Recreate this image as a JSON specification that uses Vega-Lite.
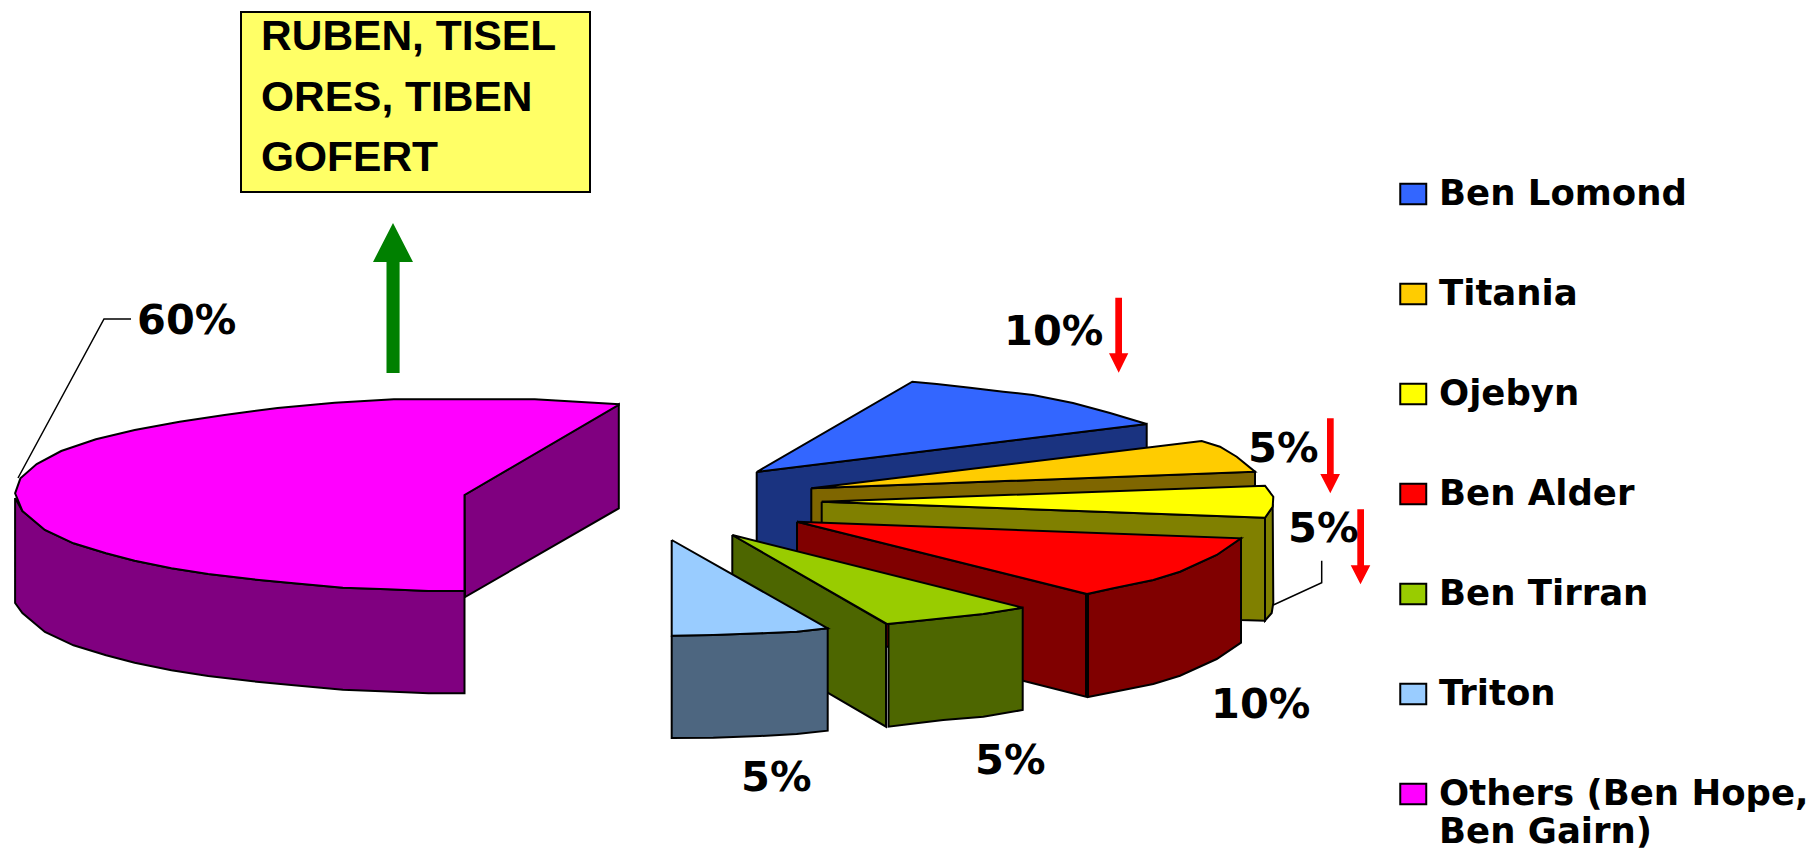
{
"$schema":"https://vega.github.io/schema/vega-lite/v6.json",
"width":1813,"height":849,"padding":0,"autosize":{"type":"none"},
"background":"white",
"config":{"view":{"stroke":null}},
"datasets":{
"poly":[
{"shape":"a","face":"Others side","i":1,"x":464.5,"y":495},{"shape":"a","face":"Others side","i":2,"x":618.8,"y":404.3},{"shape":"a","face":"Others side","i":3,"x":618.8,"y":508.3},{"shape":"a","face":"Others side","i":4,"x":465,"y":597},{"shape":"a","face":"Others side","i":5,"x":464.5,"y":495},
{"shape":"b","face":"Others side","i":1,"x":15.1,"y":498},{"shape":"b","face":"Others side","i":2,"x":22.4,"y":511},{"shape":"b","face":"Others side","i":3,"x":44.9,"y":530},{"shape":"b","face":"Others side","i":4,"x":73.5,"y":543.3},{"shape":"b","face":"Others side","i":5,"x":106.1,"y":553.3},{"shape":"b","face":"Others side","i":6,"x":134.7,"y":560.7},{"shape":"b","face":"Others side","i":7,"x":171.4,"y":568.3},{"shape":"b","face":"Others side","i":8,"x":208.2,"y":574},{"shape":"b","face":"Others side","i":9,"x":253,"y":579.3},{"shape":"b","face":"Others side","i":10,"x":293.9,"y":583.3},{"shape":"b","face":"Others side","i":11,"x":342.9,"y":587.7},{"shape":"b","face":"Others side","i":12,"x":387.8,"y":589.3},{"shape":"b","face":"Others side","i":13,"x":428.6,"y":591},{"shape":"b","face":"Others side","i":14,"x":464.5,"y":591},{"shape":"b","face":"Others side","i":15,"x":464.5,"y":693.3},{"shape":"b","face":"Others side","i":16,"x":428.6,"y":693.3},{"shape":"b","face":"Others side","i":17,"x":387.8,"y":691.5},{"shape":"b","face":"Others side","i":18,"x":342.9,"y":689.7},{"shape":"b","face":"Others side","i":19,"x":293.9,"y":685.3},{"shape":"b","face":"Others side","i":20,"x":253,"y":681.3},{"shape":"b","face":"Others side","i":21,"x":208.2,"y":676},{"shape":"b","face":"Others side","i":22,"x":171.4,"y":670.3},{"shape":"b","face":"Others side","i":23,"x":134.7,"y":662.7},{"shape":"b","face":"Others side","i":24,"x":106.1,"y":655.3},{"shape":"b","face":"Others side","i":25,"x":73.5,"y":645.3},{"shape":"b","face":"Others side","i":26,"x":44.9,"y":632},{"shape":"b","face":"Others side","i":27,"x":22.4,"y":613},{"shape":"b","face":"Others side","i":28,"x":15.1,"y":603},{"shape":"b","face":"Others side","i":29,"x":15.1,"y":498},
{"shape":"c","face":"Others (Ben Hope, Ben Gairn)","i":1,"x":619.6,"y":404.3},{"shape":"c","face":"Others (Ben Hope, Ben Gairn)","i":2,"x":534.7,"y":399.3},{"shape":"c","face":"Others (Ben Hope, Ben Gairn)","i":3,"x":393.9,"y":399.3},{"shape":"c","face":"Others (Ben Hope, Ben Gairn)","i":4,"x":334.7,"y":402.7},{"shape":"c","face":"Others (Ben Hope, Ben Gairn)","i":5,"x":277.6,"y":408},{"shape":"c","face":"Others (Ben Hope, Ben Gairn)","i":6,"x":224.5,"y":415},{"shape":"c","face":"Others (Ben Hope, Ben Gairn)","i":7,"x":179.6,"y":421.7},{"shape":"c","face":"Others (Ben Hope, Ben Gairn)","i":8,"x":134.7,"y":430},{"shape":"c","face":"Others (Ben Hope, Ben Gairn)","i":9,"x":95.9,"y":439.3},{"shape":"c","face":"Others (Ben Hope, Ben Gairn)","i":10,"x":61.2,"y":451},{"shape":"c","face":"Others (Ben Hope, Ben Gairn)","i":11,"x":36.7,"y":464},{"shape":"c","face":"Others (Ben Hope, Ben Gairn)","i":12,"x":20.4,"y":478.3},{"shape":"c","face":"Others (Ben Hope, Ben Gairn)","i":13,"x":15.1,"y":493.3},{"shape":"c","face":"Others (Ben Hope, Ben Gairn)","i":14,"x":22.4,"y":511},{"shape":"c","face":"Others (Ben Hope, Ben Gairn)","i":15,"x":44.9,"y":530},{"shape":"c","face":"Others (Ben Hope, Ben Gairn)","i":16,"x":73.5,"y":543.3},{"shape":"c","face":"Others (Ben Hope, Ben Gairn)","i":17,"x":106.1,"y":553.3},{"shape":"c","face":"Others (Ben Hope, Ben Gairn)","i":18,"x":134.7,"y":560.7},{"shape":"c","face":"Others (Ben Hope, Ben Gairn)","i":19,"x":171.4,"y":568.3},{"shape":"c","face":"Others (Ben Hope, Ben Gairn)","i":20,"x":208.2,"y":574},{"shape":"c","face":"Others (Ben Hope, Ben Gairn)","i":21,"x":253,"y":579.3},{"shape":"c","face":"Others (Ben Hope, Ben Gairn)","i":22,"x":293.9,"y":583.3},{"shape":"c","face":"Others (Ben Hope, Ben Gairn)","i":23,"x":342.9,"y":587.7},{"shape":"c","face":"Others (Ben Hope, Ben Gairn)","i":24,"x":387.8,"y":589.3},{"shape":"c","face":"Others (Ben Hope, Ben Gairn)","i":25,"x":428.6,"y":591},{"shape":"c","face":"Others (Ben Hope, Ben Gairn)","i":26,"x":464.5,"y":591},{"shape":"c","face":"Others (Ben Hope, Ben Gairn)","i":27,"x":464.5,"y":495},{"shape":"c","face":"Others (Ben Hope, Ben Gairn)","i":28,"x":619.6,"y":404.3},
{"shape":"d","face":"Ben Lomond side","i":1,"x":756.7,"y":472},{"shape":"d","face":"Ben Lomond side","i":2,"x":1146.7,"y":424},{"shape":"d","face":"Ben Lomond side","i":3,"x":1146.7,"y":448},{"shape":"d","face":"Ben Lomond side","i":4,"x":1000,"y":500},{"shape":"d","face":"Ben Lomond side","i":5,"x":800,"y":575},{"shape":"d","face":"Ben Lomond side","i":6,"x":756.7,"y":575},{"shape":"d","face":"Ben Lomond side","i":7,"x":756.7,"y":472},
{"shape":"e","face":"Ben Lomond","i":1,"x":756.7,"y":472},{"shape":"e","face":"Ben Lomond","i":2,"x":912.3,"y":381.7},{"shape":"e","face":"Ben Lomond","i":3,"x":936.7,"y":384},{"shape":"e","face":"Ben Lomond","i":4,"x":970,"y":387.7},{"shape":"e","face":"Ben Lomond","i":5,"x":1003.3,"y":391.7},{"shape":"e","face":"Ben Lomond","i":6,"x":1033,"y":395},{"shape":"e","face":"Ben Lomond","i":7,"x":1073,"y":403},{"shape":"e","face":"Ben Lomond","i":8,"x":1110,"y":413},{"shape":"e","face":"Ben Lomond","i":9,"x":1146.7,"y":424},{"shape":"e","face":"Ben Lomond","i":10,"x":756.7,"y":472},
{"shape":"f","face":"Titania side","i":1,"x":811.3,"y":488.3},{"shape":"f","face":"Titania side","i":2,"x":1255,"y":471.7},{"shape":"f","face":"Titania side","i":3,"x":1255,"y":486},{"shape":"f","face":"Titania side","i":4,"x":1100,"y":540},{"shape":"f","face":"Titania side","i":5,"x":811.3,"y":540},{"shape":"f","face":"Titania side","i":6,"x":811.3,"y":488.3},
{"shape":"g","face":"Titania","i":1,"x":811.3,"y":488.3},{"shape":"g","face":"Titania","i":2,"x":1201.7,"y":441},{"shape":"g","face":"Titania","i":3,"x":1220,"y":446.7},{"shape":"g","face":"Titania","i":4,"x":1236.7,"y":456.7},{"shape":"g","face":"Titania","i":5,"x":1255,"y":471.7},{"shape":"g","face":"Titania","i":6,"x":811.3,"y":488.3},
{"shape":"h","face":"Ojebyn side","i":1,"x":1265,"y":517.7},{"shape":"h","face":"Ojebyn side","i":2,"x":1272.7,"y":506.7},{"shape":"h","face":"Ojebyn side","i":3,"x":1273.3,"y":603},{"shape":"h","face":"Ojebyn side","i":4,"x":1271.7,"y":613},{"shape":"h","face":"Ojebyn side","i":5,"x":1265,"y":620.7},{"shape":"h","face":"Ojebyn side","i":6,"x":1265,"y":517.7},
{"shape":"i","face":"Ojebyn side","i":1,"x":821.7,"y":501.7},{"shape":"i","face":"Ojebyn side","i":2,"x":1265,"y":517.7},{"shape":"i","face":"Ojebyn side","i":3,"x":1265,"y":620.7},{"shape":"i","face":"Ojebyn side","i":4,"x":1240,"y":620},{"shape":"i","face":"Ojebyn side","i":5,"x":821.7,"y":560},{"shape":"i","face":"Ojebyn side","i":6,"x":821.7,"y":501.7},
{"shape":"j","face":"Ojebyn","i":1,"x":821.7,"y":501.7},{"shape":"j","face":"Ojebyn","i":2,"x":1265,"y":485.7},{"shape":"j","face":"Ojebyn","i":3,"x":1273.3,"y":496.7},{"shape":"j","face":"Ojebyn","i":4,"x":1272.7,"y":506.7},{"shape":"j","face":"Ojebyn","i":5,"x":1265,"y":517.7},{"shape":"j","face":"Ojebyn","i":6,"x":821.7,"y":501.7},
{"shape":"k","face":"Ben Alder side","i":1,"x":797,"y":521.7},{"shape":"k","face":"Ben Alder side","i":2,"x":1086,"y":594},{"shape":"k","face":"Ben Alder side","i":3,"x":1086,"y":696.7},{"shape":"k","face":"Ben Alder side","i":4,"x":1023,"y":680.7},{"shape":"k","face":"Ben Alder side","i":5,"x":797,"y":624},{"shape":"k","face":"Ben Alder side","i":6,"x":797,"y":521.7},
{"shape":"l","face":"Ben Alder side","i":1,"x":1088,"y":594},{"shape":"l","face":"Ben Alder side","i":2,"x":1113.3,"y":588.3},{"shape":"l","face":"Ben Alder side","i":3,"x":1153.3,"y":580},{"shape":"l","face":"Ben Alder side","i":4,"x":1180,"y":571.7},{"shape":"l","face":"Ben Alder side","i":5,"x":1216.7,"y":555},{"shape":"l","face":"Ben Alder side","i":6,"x":1241,"y":538.3},{"shape":"l","face":"Ben Alder side","i":7,"x":1241,"y":642.7},{"shape":"l","face":"Ben Alder side","i":8,"x":1216.7,"y":659},{"shape":"l","face":"Ben Alder side","i":9,"x":1180,"y":675.7},{"shape":"l","face":"Ben Alder side","i":10,"x":1153.3,"y":684},{"shape":"l","face":"Ben Alder side","i":11,"x":1113.3,"y":692},{"shape":"l","face":"Ben Alder side","i":12,"x":1088,"y":697},{"shape":"l","face":"Ben Alder side","i":13,"x":1088,"y":594},
{"shape":"m","face":"Ben Alder","i":1,"x":797,"y":521.7},{"shape":"m","face":"Ben Alder","i":2,"x":1241,"y":538.3},{"shape":"m","face":"Ben Alder","i":3,"x":1216.7,"y":555},{"shape":"m","face":"Ben Alder","i":4,"x":1180,"y":571.7},{"shape":"m","face":"Ben Alder","i":5,"x":1153.3,"y":580},{"shape":"m","face":"Ben Alder","i":6,"x":1113.3,"y":588.3},{"shape":"m","face":"Ben Alder","i":7,"x":1087,"y":594},{"shape":"m","face":"Ben Alder","i":8,"x":797,"y":521.7},
{"shape":"n","face":"Ben Tirran side","i":1,"x":732.3,"y":535},{"shape":"n","face":"Ben Tirran side","i":2,"x":886,"y":624},{"shape":"n","face":"Ben Tirran side","i":3,"x":886,"y":726.7},{"shape":"n","face":"Ben Tirran side","i":4,"x":732.3,"y":637},{"shape":"n","face":"Ben Tirran side","i":5,"x":732.3,"y":535},
{"shape":"o","face":"Ben Tirran side","i":1,"x":888.5,"y":624},{"shape":"o","face":"Ben Tirran side","i":2,"x":910,"y":621.7},{"shape":"o","face":"Ben Tirran side","i":3,"x":943.3,"y":618.3},{"shape":"o","face":"Ben Tirran side","i":4,"x":983.3,"y":614},{"shape":"o","face":"Ben Tirran side","i":5,"x":1022.7,"y":607.7},{"shape":"o","face":"Ben Tirran side","i":6,"x":1022.7,"y":710},{"shape":"o","face":"Ben Tirran side","i":7,"x":983.3,"y":716.7},{"shape":"o","face":"Ben Tirran side","i":8,"x":943.3,"y":720},{"shape":"o","face":"Ben Tirran side","i":9,"x":910,"y":724},{"shape":"o","face":"Ben Tirran side","i":10,"x":888.5,"y":726.7},{"shape":"o","face":"Ben Tirran side","i":11,"x":888.5,"y":624},
{"shape":"p","face":"Ben Tirran","i":1,"x":732.3,"y":535},{"shape":"p","face":"Ben Tirran","i":2,"x":1022.7,"y":607.7},{"shape":"p","face":"Ben Tirran","i":3,"x":983.3,"y":614},{"shape":"p","face":"Ben Tirran","i":4,"x":943.3,"y":618.3},{"shape":"p","face":"Ben Tirran","i":5,"x":910,"y":621.7},{"shape":"p","face":"Ben Tirran","i":6,"x":887.3,"y":624},{"shape":"p","face":"Ben Tirran","i":7,"x":732.3,"y":535},
{"shape":"q","face":"Triton side","i":1,"x":671.7,"y":635.7},{"shape":"q","face":"Triton side","i":2,"x":713.3,"y":635},{"shape":"q","face":"Triton side","i":3,"x":760,"y":633.3},{"shape":"q","face":"Triton side","i":4,"x":796.7,"y":631.7},{"shape":"q","face":"Triton side","i":5,"x":827.7,"y":628.3},{"shape":"q","face":"Triton side","i":6,"x":827.7,"y":730.7},{"shape":"q","face":"Triton side","i":7,"x":796.7,"y":734},{"shape":"q","face":"Triton side","i":8,"x":760,"y":736},{"shape":"q","face":"Triton side","i":9,"x":713.3,"y":737.7},{"shape":"q","face":"Triton side","i":10,"x":671.7,"y":738},{"shape":"q","face":"Triton side","i":11,"x":671.7,"y":635.7},
{"shape":"r","face":"Triton","i":1,"x":671.7,"y":540},{"shape":"r","face":"Triton","i":2,"x":827.7,"y":628.3},{"shape":"r","face":"Triton","i":3,"x":796.7,"y":631.7},{"shape":"r","face":"Triton","i":4,"x":760,"y":633.3},{"shape":"r","face":"Triton","i":5,"x":713.3,"y":635},{"shape":"r","face":"Triton","i":6,"x":671.7,"y":635.7},{"shape":"r","face":"Triton","i":7,"x":671.7,"y":540}
],
"green":[
{"i":1,"x":386.5,"y":373},{"i":2,"x":386.5,"y":262},{"i":3,"x":373,"y":262},{"i":4,"x":393,"y":223},{"i":5,"x":413,"y":262},{"i":6,"x":399.6,"y":262},{"i":7,"x":399.6,"y":373},{"i":8,"x":386.5,"y":373}
],
"red":[
{"a":"1","i":1,"x":1115.3,"y":297.7},{"a":"1","i":2,"x":1122,"y":297.7},{"a":"1","i":3,"x":1122,"y":353.3},{"a":"1","i":4,"x":1128.3,"y":353.3},{"a":"1","i":5,"x":1118.7,"y":372.7},{"a":"1","i":6,"x":1109,"y":353.3},{"a":"1","i":7,"x":1115.3,"y":353.3},
{"a":"2","i":1,"x":1327,"y":418.3},{"a":"2","i":2,"x":1333.7,"y":418.3},{"a":"2","i":3,"x":1333.7,"y":474},{"a":"2","i":4,"x":1340,"y":474},{"a":"2","i":5,"x":1330.3,"y":493.3},{"a":"2","i":6,"x":1320.3,"y":474},{"a":"2","i":7,"x":1327,"y":474},
{"a":"3","i":1,"x":1357.3,"y":509.3},{"a":"3","i":2,"x":1364,"y":509.3},{"a":"3","i":3,"x":1364,"y":565.3},{"a":"3","i":4,"x":1370.3,"y":565.3},{"a":"3","i":5,"x":1360.5,"y":584.3},{"a":"3","i":6,"x":1350.7,"y":565.3},{"a":"3","i":7,"x":1357.3,"y":565.3}
],
"leaders":[
{"l":"a","i":1,"x":131,"y":319},{"l":"a","i":2,"x":104,"y":319},{"l":"a","i":3,"x":18,"y":478},
{"l":"b","i":1,"x":1321.7,"y":560.7},{"l":"b","i":2,"x":1321.7,"y":582.7},{"l":"b","i":3,"x":1273.3,"y":605}
],
"labels":[
{"t":"60%","x":137,"y":334},{"t":"10%","x":1004,"y":345},{"t":"5%","x":1248,"y":462},{"t":"5%","x":1288,"y":541.5},{"t":"10%","x":1211,"y":717.5},{"t":"5%","x":975,"y":774},{"t":"5%","x":741,"y":791}
],
"box":[{"x":241,"x2":590,"y":12,"y2":192}],
"boxtext":[{"t":"RUBEN, TISEL","x":261,"y":50},{"t":"ORES, TIBEN","x":261,"y":111},{"t":"GOFERT","x":261,"y":171}]
},
"layer":[
{"data":{"name":"poly"},"mark":{"type":"line","stroke":"black","strokeWidth":2,"strokeJoin":"miter"},
"encoding":{
"x":{"field":"x","type":"quantitative","scale":{"domain":[0,1813],"nice":false,"zero":false},"axis":null},
"y":{"field":"y","type":"quantitative","scale":{"domain":[849,0],"nice":false,"zero":false},"axis":null},
"detail":{"field":"shape"},
"order":{"field":"i","type":"quantitative"},
"fill":{"field":"face","type":"nominal",
"scale":{"domain":["Ben Lomond","Titania","Ojebyn","Ben Alder","Ben Tirran","Triton","Others (Ben Hope, Ben Gairn)","Ben Lomond side","Titania side","Ojebyn side","Ben Alder side","Ben Tirran side","Triton side","Others side"],
"range":["#3366FF","#FFCC00","#FFFF00","#FF0000","#99CC00","#99CCFF","#FF00FF","#1A3380","#7F6600","#808000","#800000","#4D6600","#4D6680","#800080"]},
"legend":{"orient":"none","legendX":1395.5,"legendY":180,"title":null,"columns":1,
"values":["Ben Lomond","Titania","Ojebyn","Ben Alder","Ben Tirran","Triton","Others (Ben Hope, Ben Gairn)"],
"labelExpr":"datum.label=='Others (Ben Hope, Ben Gairn)'?['Others (Ben Hope,','Ben Gairn)']:datum.label",
"symbolType":"M-1,-0.79H1V0.79H-1Z","symbolSize":676,"symbolStrokeColor":"black","symbolStrokeWidth":2,
"labelFont":"DejaVu Sans","labelFontWeight":"bold","labelFontSize":35.5,"labelColor":"black","labelLimit":500,"labelOffset":8,
"clipHeight":28,"rowPadding":64}}
}},
{"data":{"name":"green"},"mark":{"type":"line","fill":"#008000","strokeWidth":0},"encoding":{
"x":{"field":"x","type":"quantitative"},"y":{"field":"y","type":"quantitative"},"order":{"field":"i","type":"quantitative"}}},
{"data":{"name":"red"},"mark":{"type":"line","fill":"#FF0000","strokeWidth":0},"encoding":{
"x":{"field":"x","type":"quantitative"},"y":{"field":"y","type":"quantitative"},"detail":{"field":"a"},"order":{"field":"i","type":"quantitative"}}},
{"data":{"name":"leaders"},"mark":{"type":"line","stroke":"black","strokeWidth":1.5},"encoding":{
"x":{"field":"x","type":"quantitative"},"y":{"field":"y","type":"quantitative"},"detail":{"field":"l"},"order":{"field":"i","type":"quantitative"}}},
{"data":{"name":"box"},"mark":{"type":"rect","fill":"#FFFF66","stroke":"black","strokeWidth":2},"encoding":{
"x":{"field":"x","type":"quantitative"},"x2":{"field":"x2"},"y":{"field":"y","type":"quantitative"},"y2":{"field":"y2"}}},
{"data":{"name":"boxtext"},"mark":{"type":"text","font":"Liberation Sans","fontWeight":"bold","fontSize":42.5,"align":"left","baseline":"alphabetic","color":"black"},"encoding":{
"x":{"field":"x","type":"quantitative"},"y":{"field":"y","type":"quantitative"},"text":{"field":"t"}}},
{"data":{"name":"labels"},"mark":{"type":"text","font":"DejaVu Sans","fontWeight":"bold","fontSize":41.5,"align":"left","baseline":"alphabetic","color":"black"},"encoding":{
"x":{"field":"x","type":"quantitative"},"y":{"field":"y","type":"quantitative"},"text":{"field":"t"}}}
]
}
